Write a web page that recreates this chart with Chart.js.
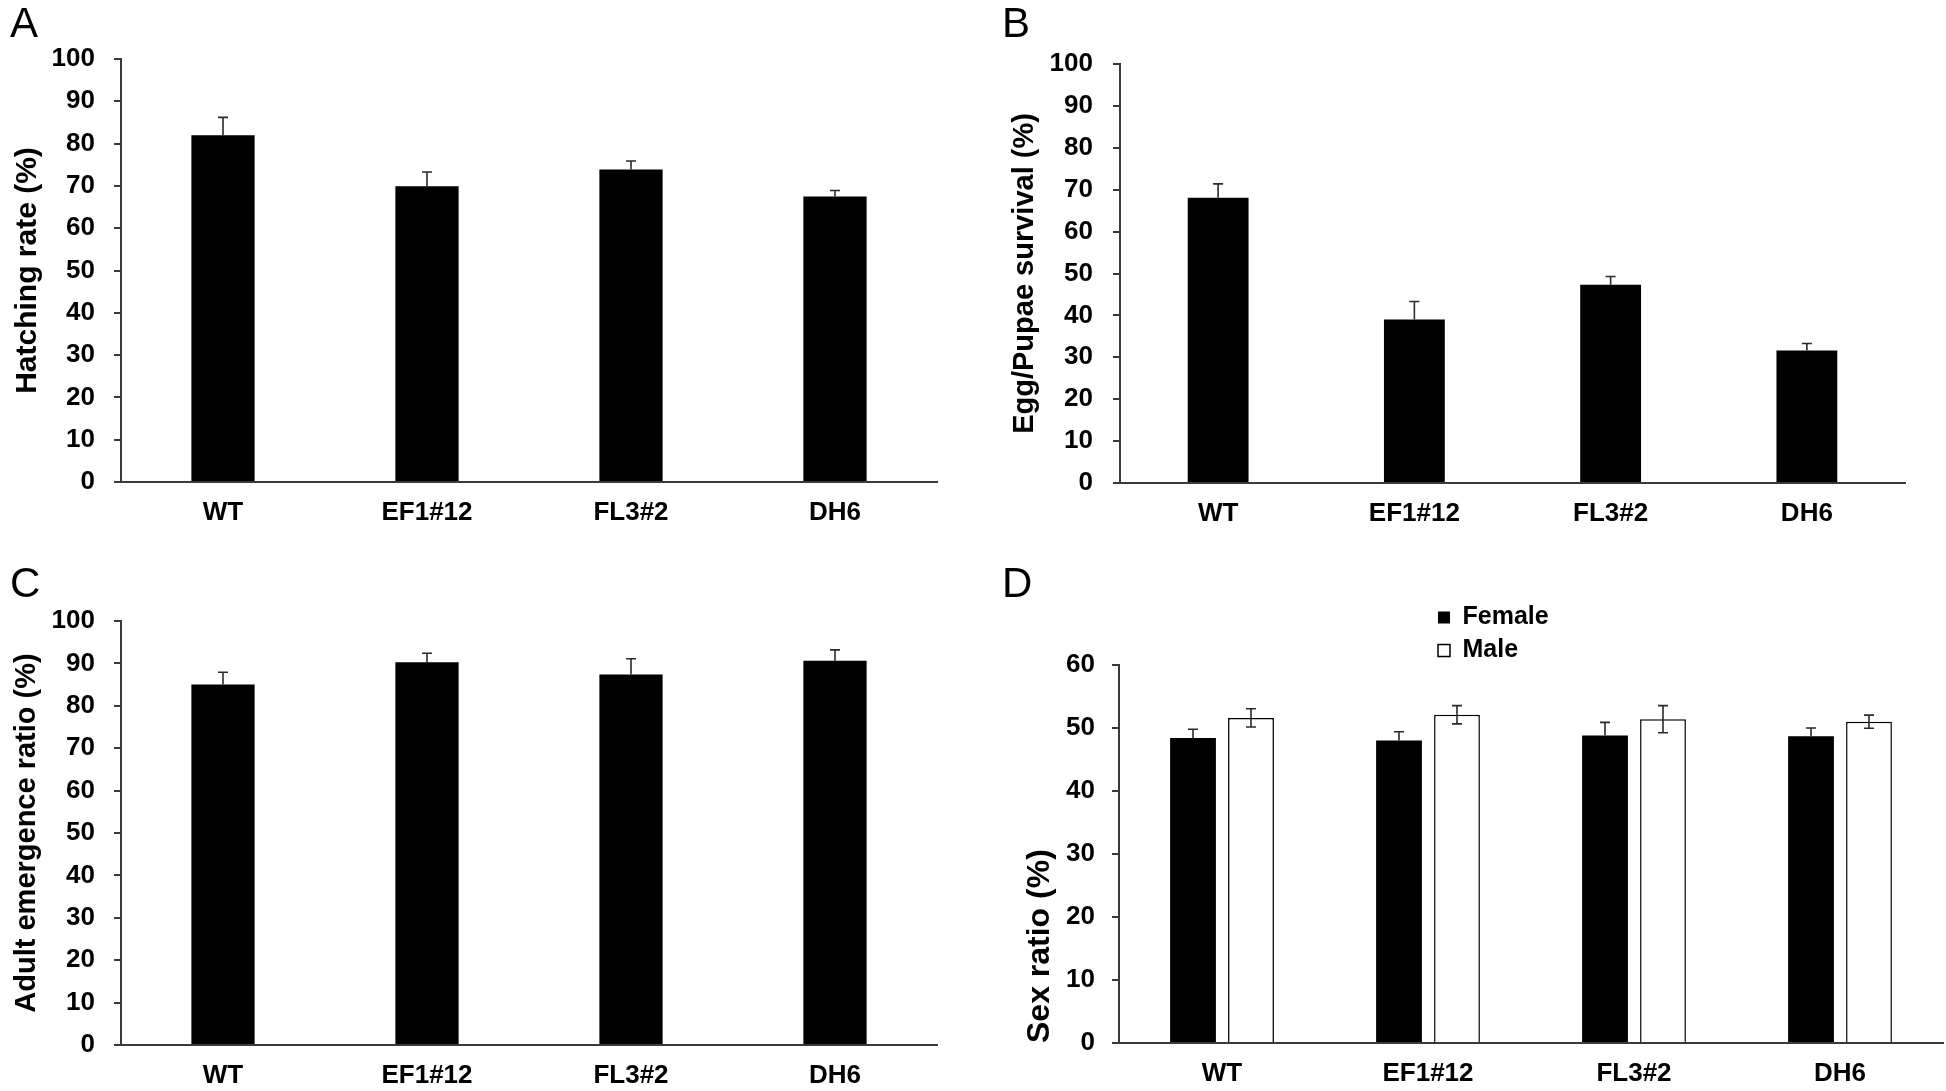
<!DOCTYPE html>
<html>
<head>
<meta charset="utf-8">
<title>Survival and sex ratio</title>
<script src="https://cdn.jsdelivr.net/npm/chart.js@4.4.1/dist/chart.umd.min.js"></script>
<style>
  html, body { margin: 0; padding: 0; background: #fff; }
  body { width: 1946px; height: 1091px; position: relative; overflow: hidden; }
  canvas { position: absolute; }
</style>
</head>
<body>
<canvas id="panelA" width="945" height="545" style="left:0;top:0"></canvas>
<canvas id="panelB" width="954" height="545" style="left:992px;top:0"></canvas>
<canvas id="panelC" width="945" height="531" style="left:0;top:560px"></canvas>
<canvas id="panelD" width="954" height="531" style="left:992px;top:560px"></canvas>
<script>
// data
const categories = ['WT', 'EF1#12', 'FL3#2', 'DH6'];

const hatchRate = [82.0, 69.9, 73.9, 67.5];
const hatchErr = [4.2, 3.4, 2.0, 1.4];

const survival = [68.1, 39.0, 47.3, 31.6];
const survivalErr = [3.3, 4.3, 2.0, 1.7];

const emergence = [85.0, 90.3, 87.4, 90.6];
const emergenceErr = [2.9, 2.1, 3.7, 2.6];

const female = [48.4, 48.0, 48.8, 48.7];
const femaleErr = [1.4, 1.4, 2.1, 1.3];
const male = [51.6, 52.1, 51.4, 51.0];
const maleErr = [1.45, 1.45, 2.15, 1.05];

const seriesNames = ['Female', 'Male'];
const tickStep = 10;

Chart.defaults.font.family = "'Liberation Sans', Arial, sans-serif";
Chart.defaults.color = '#000';

const AXIS = '#3a3a3a';
const LETTER_FONT = "'Liberation Sans Narrow', 'Liberation Sans', Arial, sans-serif";

// error bars, drawn through the y scale
const errorBars = {
  id: 'errorBars',
  afterDatasetsDraw(chart) {
    const ctx = chart.ctx;
    const y = chart.scales.y;
    chart.data.datasets.forEach((ds, i) => {
      if (!ds.errors) return;
      const meta = chart.getDatasetMeta(i);
      ctx.save();
      ctx.strokeStyle = '#2a2a2a';
      ctx.lineWidth = 1.6;
      meta.data.forEach((bar, j) => {
        const v = ds.data[j], e = ds.errors[j];
        const top = y.getPixelForValue(v + e);
        const bot = y.getPixelForValue(ds.bothSides ? v - e : v);
        ctx.beginPath();
        ctx.moveTo(bar.x, top);
        ctx.lineTo(bar.x, bot);
        ctx.moveTo(bar.x - 5, top);
        ctx.lineTo(bar.x + 5, top);
        if (ds.bothSides) {
          ctx.moveTo(bar.x - 5, bot);
          ctx.lineTo(bar.x + 5, bot);
        }
        ctx.stroke();
      });
      ctx.restore();
    });
  }
};

// put the (column) legend where the figure has it
const moveLegend = {
  id: 'moveLegend',
  afterLayout(chart, args, opts) {
    const lg = chart.legend;
    if (!lg) return;
    const pad = lg.options.labels.padding;
    lg.left = opts.x - pad;
    lg.top = opts.y - pad;
    lg.right = lg.left + lg.width;
    lg.bottom = lg.top + lg.height;
  }
};

function barPanel(id, o) {
  return new Chart(document.getElementById(id), {
    type: 'bar',
    data: { labels: categories, datasets: o.datasets },
    options: {
      responsive: false,
      animation: false,
      layout: { padding: { left: 10, right: o.right, top: 0, bottom: 0 } },
      plugins: {
        legend: o.legend || { display: false },
        tooltip: { enabled: false },
        title: {
          display: true,
          text: o.letter,
          align: 'start',
          color: '#000',
          font: { family: LETTER_FONT, size: 42, weight: 'normal', lineHeight: 1.2 },
          padding: { top: 0, bottom: o.gapTop }
        },
        moveLegend: o.legendAt || false
      },
      scales: {
        x: {
          grid: { display: false, drawTicks: false },
          border: { display: true, color: AXIS, width: 2 },
          ticks: { font: { size: 26, weight: 'bold' }, padding: 15, color: '#000' },
          afterFit: s => { s.height = o.xHeight; }
        },
        y: {
          min: 0,
          max: o.max,
          ticks: { stepSize: tickStep, font: { size: 26, weight: 'bold' }, padding: o.tickPad, color: '#000' },
          grid: { drawOnChartArea: false, drawTicks: true, tickLength: 7, color: AXIS, lineWidth: 2 },
          border: { display: true, color: AXIS, width: 2 },
          title: {
            display: true,
            text: o.yTitle,
            align: o.titleAlign || 'center',
            color: '#000',
            font: { size: o.titleSize || 29, weight: 'bold', lineHeight: 1.2 },
            padding: { top: o.titlePad, bottom: 0 }
          },
          afterFit: s => { s.width = o.yWidth; }
        }
      }
    },
    plugins: [errorBars, moveLegend]
  });
}

function blackBars(values, errs) {
  return [{
    data: values,
    errors: errs,
    bothSides: false,
    backgroundColor: '#000',
    borderWidth: 0,
    categoryPercentage: 1,
    barPercentage: 0.31
  }];
}

barPanel('panelA', {
  letter: 'A', yTitle: 'Hatching rate (%)', max: 100, titleSize: 30,
  datasets: blackBars(hatchRate, hatchErr),
  right: 8, gapTop: 8.6, xHeight: 63, yWidth: 111, tickPad: 19, titlePad: 0
});

barPanel('panelB', {
  letter: 'B', yTitle: 'Egg/Pupae survival (%)', max: 100,
  datasets: blackBars(survival, survivalErr),
  right: 41, gapTop: 13.6, xHeight: 62, yWidth: 118, tickPad: 20, titlePad: 6
});

barPanel('panelC', {
  letter: 'C', yTitle: 'Adult emergence ratio (%)', max: 100,
  datasets: blackBars(emergence, emergenceErr),
  right: 8, gapTop: 10.6, xHeight: 46, yWidth: 111, tickPad: 19, titlePad: 0
});

barPanel('panelD', {
  letter: 'D', yTitle: 'Sex ratio (%)', max: 60, titleAlign: 'start', titleSize: 32,
  datasets: [
    {
      label: seriesNames[0], data: female, errors: femaleErr, bothSides: false,
      backgroundColor: '#000', borderColor: '#000', borderWidth: 0,
      categoryPercentage: 0.563, barPercentage: 0.79
    },
    {
      label: seriesNames[1], data: male, errors: maleErr, bothSides: true,
      backgroundColor: '#fff', borderColor: '#000', borderWidth: 1.5,
      categoryPercentage: 0.563, barPercentage: 0.79
    }
  ],
  legend: {
    display: true,
    position: 'chartArea',
    align: 'start',
    labels: { boxWidth: 12, boxHeight: 12, padding: 8, color: '#000', font: { size: 25, weight: 'bold' } }
  },
  legendAt: { x: 446, y: 45 },
  right: 3, gapTop: 54.6, xHeight: 48, yWidth: 117, tickPad: 17, titlePad: 19
});
</script>
</body>
</html>
